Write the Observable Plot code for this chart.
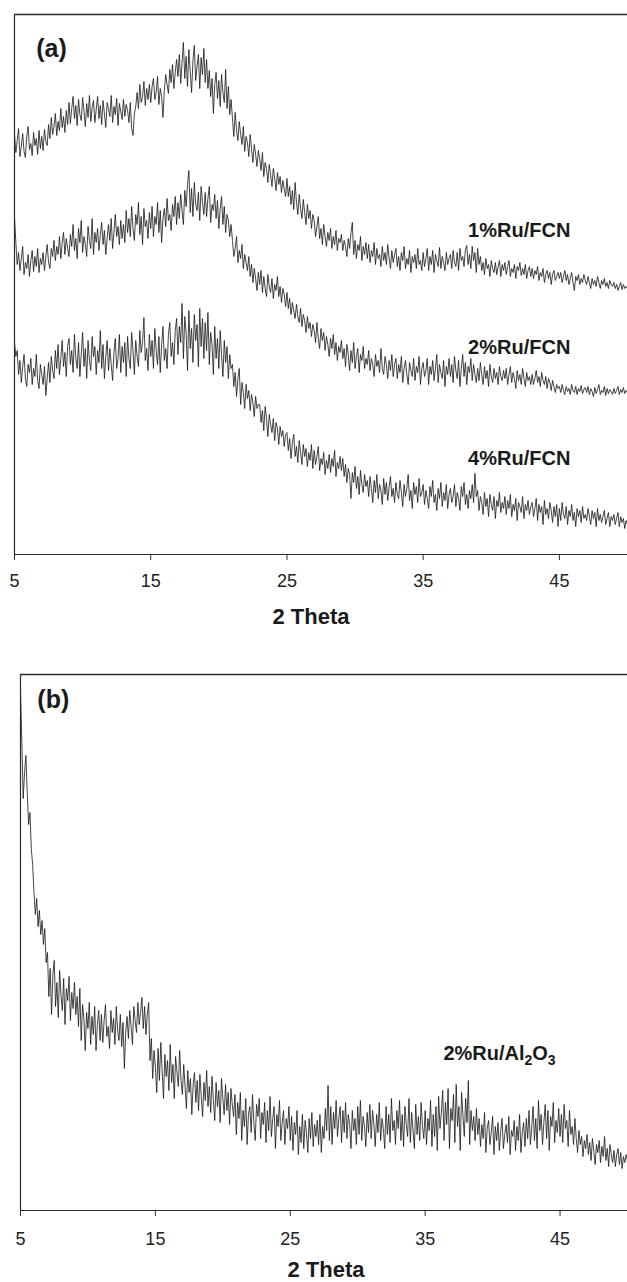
<!DOCTYPE html>
<html>
<head>
<meta charset="utf-8">
<script src="https://cdn.jsdelivr.net/npm/d3@7"></script>
<script src="https://cdn.jsdelivr.net/npm/@observablehq/plot@0.6"></script>
<style>
  html, body { margin: 0; padding: 0; background: #fff; }
  #wrap { width: 627px; }
  #wrap svg { display: block; font-family: "Liberation Sans", Arial, sans-serif; }
</style>
</head>
<body>
<div id="wrap"></div>
<script>
// ---- sampling grid (2 Theta, degrees) ----
const thetaStart = 5;
const thetaStep = 0.1;

// ---- axis ticks ----
const xTicks = [5, 15, 25, 35, 45];

// ---- panel (a) intensities (a.u.), 5.0 .. 50.0 every 0.1 deg ----
const ru1FCN = [
  420, 402, 414, 426, 398, 408, 421, 403, 397, 418, 428, 405, 411, 399, 422, 409, 416, 400, 424, 406,
  418, 404, 425, 413, 409, 430, 416, 437, 420, 428, 441, 419, 433, 424, 446, 427, 438, 422, 444, 430,
  452, 431, 446, 458, 436, 449, 429, 455, 440, 434, 457, 443, 428, 451, 437, 459, 433, 447, 454, 432,
  445, 458, 436, 449, 430, 454, 441, 427, 452, 446, 438, 459, 432, 448, 440, 456, 429, 451, 443, 435,
  455, 438, 450, 444, 432, 452, 426, 419, 441, 448, 462, 446, 470, 452, 458, 473, 449, 466, 455, 470,
  452, 468, 476, 455, 462, 478, 450, 466, 458, 437, 464, 480, 470, 461, 485, 472, 490, 466, 482, 495,
  478, 500, 471, 492, 512, 476, 498, 468, 505, 483, 462, 494, 509, 474, 488, 500, 466, 497, 480, 506,
  472, 495, 466, 484, 458, 476, 441, 470, 482, 456, 474, 448, 480, 462, 452, 485, 446, 468, 440, 455,
  436, 418, 442, 425, 414, 433, 420, 410, 428, 403, 418, 412, 398, 420, 406, 392, 410, 400, 388, 404,
  396, 384, 402, 378, 392, 386, 372, 390, 380, 368, 386, 376, 364, 382, 370, 378, 362, 374, 366, 358,
  376, 358, 368, 350, 364, 345, 372, 352, 340, 360, 346, 336, 355, 342, 330, 350, 336, 344, 326, 340,
  334, 318, 328, 338, 316, 326, 310, 330, 318, 308, 322, 314, 326, 306, 318, 310, 324, 304, 316, 312,
  320, 304, 314, 308, 298, 316, 306, 322, 332, 300, 314, 296, 310, 304, 318, 294, 308, 300, 312, 296,
  310, 292, 304, 298, 312, 290, 306, 296, 300, 288, 308, 294, 302, 290, 310, 297, 286, 304, 292, 300,
  306, 288, 298, 284, 302, 294, 308, 286, 296, 290, 304, 282, 298, 292, 300, 286, 306, 290, 294, 284,
  302, 288, 296, 306, 284, 298, 290, 304, 282, 300, 294, 288, 307, 286, 298, 292, 284, 302, 290, 296,
  300, 286, 304, 292, 288, 302, 284, 306, 294, 298, 288, 305, 309, 290, 300, 286, 308, 294, 302, 282,
  306, 290, 298, 284, 292, 280, 296, 286, 290, 278, 294, 286, 282, 292, 280, 288, 294, 278, 290, 284,
  292, 280, 288, 294, 278, 286, 282, 290, 276, 288, 284, 292, 279, 286, 280, 290, 276, 284, 288, 278,
  286, 276, 284, 280, 288, 274, 282, 278, 286, 272, 280, 284, 276, 282, 270, 280, 284, 274, 278, 282,
  276, 282, 272, 278, 284, 274, 280, 270, 276, 282, 272, 264, 278, 274, 280, 270, 276, 272, 280, 274,
  270, 278, 272, 266, 276, 270, 274, 268, 278, 272, 266, 274, 270, 276, 268, 272, 266, 274, 270, 268,
  272, 266, 270, 264, 268, 272, 265, 270, 266, 268, 266
];
const ru2FCN = [
  337, 312, 290, 302, 284, 296, 308, 280, 292, 286, 300, 278, 294, 304, 283, 298, 288, 306, 282, 296,
  290, 302, 284, 298, 310, 292, 286, 306, 298, 314, 294, 308, 300, 318, 296, 312, 322, 300, 316, 306,
  298, 320, 308, 330, 304, 316, 296, 326, 312, 334, 302, 318, 310, 298, 328, 314, 306, 336, 300, 322,
  312, 326, 304, 320, 332, 310, 324, 300, 316, 330, 314, 336, 306, 322, 340, 318, 328, 310, 334, 316,
  330, 312, 344, 322, 336, 318, 348, 326, 314, 340, 330, 352, 320, 338, 310, 346, 328, 334, 316, 342,
  326, 348, 318, 338, 330, 352, 322, 344, 312, 336, 346, 328, 356, 334, 340, 324, 350, 338, 358, 330,
  352, 336, 360, 344, 330, 364, 348, 370, 384, 342, 366, 338, 372, 350, 344, 362, 334, 368, 352, 340,
  362, 338, 356, 368, 332, 350, 344, 360, 336, 354, 326, 346, 358, 330, 348, 322, 340, 334, 318, 330,
  314, 298, 306, 318, 292, 304, 296, 310, 286, 300, 292, 284, 298, 278, 290, 272, 286, 276, 264, 282,
  270, 284, 262, 278, 266, 258, 280, 268, 262, 276, 256, 270, 264, 278, 258, 268, 252, 266, 260, 248,
  262, 246, 256, 240, 252, 244, 236, 250, 238, 232, 246, 228, 240, 234, 222, 238, 226, 232, 218, 230,
  224, 212, 232, 216, 206, 226, 214, 222, 204, 218, 210, 198, 216, 206, 220, 200, 212, 194, 208, 202,
  214, 196, 206, 188, 210, 200, 184, 204, 192, 212, 186, 198, 206, 182, 200, 194, 208, 186, 196, 190,
  204, 184, 196, 190, 178, 200, 188, 194, 182, 206, 186, 180, 198, 190, 176, 194, 184, 200, 178, 190,
  196, 176, 190, 182, 198, 172, 186, 194, 180, 170, 192, 184, 178, 196, 174, 188, 182, 198, 170, 186,
  192, 178, 184, 196, 170, 188, 180, 194, 174, 186, 200, 172, 190, 182, 176, 194, 168, 188, 180, 196,
  178, 190, 172, 198, 184, 176, 194, 168, 186, 200, 178, 192, 170, 188, 182, 196, 174, 190, 180, 172,
  186, 174, 192, 180, 170, 188, 176, 184, 168, 190, 178, 172, 186, 176, 182, 170, 188, 178, 174, 184,
  176, 186, 170, 180, 188, 172, 182, 176, 166, 184, 174, 180, 170, 186, 176, 168, 182, 174, 178, 170,
  180, 170, 176, 184, 172, 178, 168, 182, 174, 170, 178, 166, 176, 172, 164, 174, 168, 162, 170, 166,
  168, 162, 170, 164, 160, 168, 163, 166, 160, 170, 164, 162, 168, 160, 166, 163, 169, 161, 165, 167,
  162, 168, 160, 166, 163, 158, 167, 161, 165, 170, 160, 164, 162, 168, 159, 166, 161, 165, 163, 160,
  166, 161, 164, 168, 160, 165, 162, 167, 161, 164, 162
];
const ru4FCN = [
  212, 198, 204, 180, 194, 172, 188, 200, 176, 168, 190, 182, 196, 170, 186, 178, 200, 174, 166, 190,
  180, 170, 188, 159, 176, 192, 172, 198, 184, 176, 204, 186, 210, 180, 196, 214, 188, 202, 178, 208,
  216, 190, 204, 182, 220, 196, 186, 212, 178, 200, 222, 188, 206, 176, 214, 194, 184, 218, 198, 208,
  180, 204, 192, 224, 186, 210, 176, 198, 214, 184, 206, 190, 174, 202, 216, 186, 196, 220, 182, 208,
  192, 212, 178, 218, 196, 186, 222, 204, 180, 214, 198, 188, 224, 202, 212, 237, 194, 206, 184, 220,
  198, 214, 186, 226, 204, 190, 218, 182, 210, 228, 194, 206, 186, 220, 232, 198, 212, 190, 224, 236,
  200, 228, 212, 251, 196, 238, 222, 184, 244, 206, 226, 192, 240, 214, 230, 188, 246, 208, 236, 196,
  232, 204, 242, 190, 222, 210, 180, 228, 196, 216, 186, 224, 200, 178, 214, 192, 208, 176, 200, 186,
  190, 168, 182, 158, 176, 186, 150, 172, 162, 146, 170, 156, 164, 144, 160, 152, 138, 158, 146, 150,
  150, 132, 144, 124, 148, 136, 118, 140, 130, 122, 136, 114, 132, 126, 110, 128, 118, 124, 108, 120,
  122, 104, 116, 96, 112, 120, 98, 108, 92, 114, 102, 90, 110, 98, 106, 88, 102, 94, 110, 86,
  104, 90, 98, 108, 84, 96, 90, 102, 80, 94, 86, 100, 82, 96, 88, 104, 78, 92, 86, 98,
  84, 96, 78, 90, 72, 86, 80, 56, 82, 72, 88, 66, 78, 60, 84, 70, 62, 80, 68, 74,
  58, 78, 66, 52, 74, 62, 80, 56, 70, 64, 50, 76, 60, 72, 54, 68, 78, 58, 66, 52,
  72, 60, 56, 74, 62, 48, 70, 58, 66, 80, 54, 64, 46, 72, 60, 68, 52, 76, 58, 62,
  70, 50, 64, 56, 46, 68, 58, 74, 52, 60, 44, 66, 56, 72, 48, 62, 54, 70, 46, 60,
  66, 52, 58, 70, 48, 62, 56, 44, 68, 58, 72, 50, 60, 46, 64, 56, 70, 52, 81, 58,
  64, 44, 58, 52, 40, 62, 48, 56, 38, 60, 50, 44, 58, 36, 54, 48, 62, 42, 52, 46,
  58, 40, 54, 46, 60, 38, 50, 44, 56, 34, 52, 48, 42, 58, 36, 50, 44, 54, 40, 48,
  52, 38, 46, 56, 34, 50, 42, 48, 30, 54, 40, 46, 36, 52, 44, 32, 48, 38, 50, 28,
  46, 34, 52, 40, 36, 48, 30, 44, 38, 50, 34, 42, 28, 46, 38, 44, 32, 48, 36, 40,
  34, 46, 38, 30, 44, 36, 42, 28, 46, 34, 40, 32, 38, 44, 30, 36, 42, 28, 38, 34,
  40, 30, 36, 42, 28, 38, 32, 36, 26, 34, 30
];

// ---- panel (b) intensities ----
const ru2Al2O3 = [
  520, 468, 412, 438, 455, 418, 386, 398, 362, 346, 318, 296, 312, 284, 300, 276, 290, 266, 282, 248,
  258, 214, 242, 196, 236, 250, 204, 228, 193, 240, 216, 200, 232, 186, 222, 210, 234, 190, 218, 202,
  228, 196, 214, 184, 222, 170, 206, 192, 160, 198, 182, 208, 166, 194, 176, 204, 160, 186, 200, 170,
  196, 168, 190, 206, 174, 184, 162, 200, 178, 192, 166, 204, 180, 170, 196, 164, 188, 142, 178, 194,
  172, 200, 184, 166, 204, 190, 178, 208, 186, 198, 213, 182, 204, 176, 196, 208, 150, 172, 132, 160,
  144, 118, 162, 130, 168, 140, 112, 156, 134, 150, 120, 166, 128, 146, 112, 154, 138, 124, 160, 130,
  116, 146, 124, 102, 140, 118, 132, 96, 126, 138, 108, 130, 100, 136, 114, 94, 128, 110, 140, 104,
  124, 98, 134, 110, 90, 128, 104, 120, 88, 132, 112, 96, 126, 100, 118, 86, 122, 106, 94, 116,
  76, 108, 92, 118, 70, 100, 84, 112, 66, 96, 104, 78, 116, 88, 70, 106, 94, 112, 72, 98,
  86, 108, 68, 100, 80, 114, 74, 92, 104, 62, 96, 84, 110, 70, 88, 100, 66, 92, 82, 104,
  70, 94, 60, 88, 76, 100, 56, 84, 68, 96, 62, 90, 78, 58, 92, 72, 98, 64, 86, 74,
  90, 66, 96, 58, 84, 72, 102, 80, 125, 70, 104, 66, 98, 82, 110, 74, 92, 104, 68, 100,
  78, 108, 72, 96, 86, 62, 100, 80, 92, 66, 104, 76, 110, 70, 94, 84, 64, 98, 78, 106,
  72, 100, 86, 64, 96, 78, 108, 70, 92, 82, 62, 104, 76, 96, 68, 112, 80, 90, 66, 100,
  82, 110, 70, 96, 64, 104, 86, 74, 112, 68, 98, 80, 62, 106, 76, 94, 70, 108, 84, 72,
  100, 66, 92, 80, 110, 64, 96, 74, 104, 60, 114, 82, 98, 120, 70, 108, 86, 122, 62, 102,
  90, 116, 68, 126, 84, 104, 60, 118, 96, 74, 112, 88, 130, 66, 100, 80, 94, 70, 102, 76,
  92, 64, 86, 72, 98, 58, 82, 90, 66, 78, 94, 56, 84, 70, 88, 60, 80, 92, 62, 76,
  86, 68, 94, 56, 80, 74, 90, 60, 84, 70, 96, 58, 78, 88, 64, 92, 72, 100, 66, 82,
  104, 70, 92, 62, 110, 80, 96, 66, 88, 106, 72, 100, 60, 94, 84, 108, 68, 90, 78, 102,
  74, 96, 68, 106, 82, 90, 64, 100, 76, 84, 66, 92, 72, 58, 80, 66, 74, 54, 70, 62,
  76, 56, 68, 50, 72, 60, 46, 66, 58, 70, 48, 64, 54, 74, 50, 62, 44, 66, 56, 48,
  60, 44, 56, 62, 46, 58, 42, 54, 48, 56, 50
];

// ---- annotations (data coordinates) ----
const labelsA = [
  {text: "1%Ru/FCN", theta: 38.3, intensity: 324},
  {text: "2%Ru/FCN", theta: 38.3, intensity: 207},
  {text: "4%Ru/FCN", theta: 38.3, intensity: 96}
];
const labelsB = [
  {text: "2%Ru/Al2O3", theta: 36.35, intensity: 157}
];
const panelTagA = [{text: "(a)", theta: 6.6, intensity: 506}];
const panelTagB = [{text: "(b)", theta: 6.25, intensity: 511}];
const axisTitle = ["2 Theta"];

function rows(name, vals) {
  return vals.map((v, i) => ({series: name, theta: thetaStart + i * thetaStep, intensity: v}));
}

const dataA = [...rows("1%Ru/FCN", ru1FCN), ...rows("2%Ru/FCN", ru2FCN), ...rows("4%Ru/FCN", ru4FCN)];
const dataB = rows("2%Ru/Al2O3", ru2Al2O3);

const lineStyle = {x: "theta", y: "intensity", z: "series", stroke: "#151515", strokeWidth: 0.8};
const frameColor = "#2b2b2b";

function panel({data, labels, tag, height, marginLeft, marginBottom, yMax, tickPadding, titleDx, titleDy}) {
  return Plot.plot({
    width: 627,
    height,
    marginTop: 14,
    marginLeft,
    marginRight: 0,
    marginBottom,
    x: {domain: [5, 50]},
    y: {domain: [0, yMax], axis: null},
    marks: [
      Plot.line(data, lineStyle),
      Plot.ruleX([5], {stroke: frameColor, strokeWidth: 1.2}),
      Plot.ruleY([yMax], {stroke: frameColor, strokeWidth: 1.4}),
      Plot.ruleY([0], {stroke: frameColor, strokeWidth: 1.2}),
      Plot.axisX({ticks: xTicks, tickSize: 6, tickPadding, fontSize: 18, label: null, stroke: frameColor, fill: "#222"}),
      Plot.text(labels, {x: "theta", y: "intensity", text: "text", textAnchor: "start", fontSize: 20, fontWeight: "bold", fill: "#1a1a1a", className: "series-label"}),
      Plot.text(tag, {x: "theta", y: "intensity", text: "text", textAnchor: "start", fontSize: 25, fontWeight: "bold", fill: "#1a1a1a"}),
      Plot.text(axisTitle, {frameAnchor: "bottom", lineAnchor: "middle", dx: titleDx, dy: titleDy, fontSize: 22, fontWeight: "bold", fill: "#1a1a1a"})
    ]
  });
}

const plotA = panel({data: dataA, labels: labelsA, tag: panelTagA, height: 660, marginLeft: 14, marginBottom: 106, yMax: 540, tickPadding: 14, titleDx: -10, titleDy: 62});
const plotB = panel({data: dataB, labels: labelsB, tag: panelTagB, height: 622, marginLeft: 20, marginBottom: 72, yMax: 536, tickPadding: 16, titleDx: 2, titleDy: 59});

// subscripts for Al2O3
d3.select(plotB).selectAll(".series-label text").each(function() {
  const t = d3.select(this);
  if (t.text() !== "2%Ru/Al2O3") return;
  t.text(null);
  t.append("tspan").text("2%Ru/Al");
  t.append("tspan").attr("dy", 5).attr("font-size", 14).text("2");
  t.append("tspan").attr("dy", -5).text("O");
  t.append("tspan").attr("dy", 5).attr("font-size", 14).text("3");
});

document.getElementById("wrap").append(plotA, plotB);
</script>
</body>
</html>
